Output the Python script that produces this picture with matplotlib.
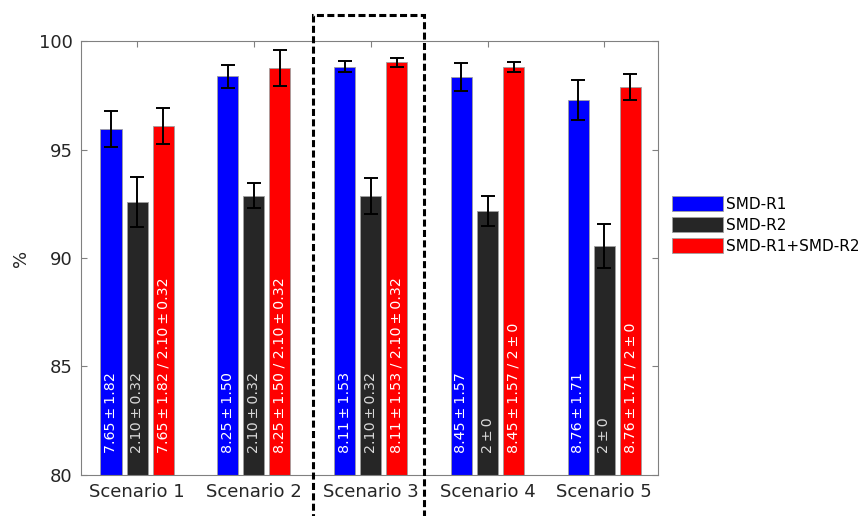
import matplotlib
matplotlib.use("Agg")
import matplotlib.pyplot as plt
import numpy as np
from matplotlib.patches import Rectangle

scenarios = ["Scenario 1", "Scenario 2", "Scenario 3", "Scenario 4", "Scenario 5"]
series = ["SMD-R1", "SMD-R2", "SMD-R1+SMD-R2"]

r1 = [95.94, 98.37, 98.82, 98.34, 97.28]
r1_err = [0.83, 0.54, 0.26, 0.63, 0.92]
r2 = [92.58, 92.87, 92.87, 92.17, 90.55]
r2_err = [1.16, 0.58, 0.82, 0.70, 1.01]
both = [96.08, 98.76, 99.02, 98.82, 97.88]
both_err = [0.82, 0.81, 0.22, 0.23, 0.61]

r1_text = ["7.65 ± 1.82", "8.25 ± 1.50", "8.11 ± 1.53", "8.45 ± 1.57", "8.76 ± 1.71"]
r2_text = ["2.10 ± 0.32", "2.10 ± 0.32", "2.10 ± 0.32", "2 ± 0", "2 ± 0"]
both_text = ["7.65 ± 1.82 / 2.10 ± 0.32", "8.25 ± 1.50 / 2.10 ± 0.32",
             "8.11 ± 1.53 / 2.10 ± 0.32", "8.45 ± 1.57 / 2 ± 0", "8.76 ± 1.71 / 2 ± 0"]

colors = ["#0000ff", "#262626", "#ff0000"]
text_colors = ["white", "#d9d9d9", "white"]

fig = plt.figure(figsize=(8.67, 5.16), dpi=100)
ax = fig.add_axes([0.0934, 0.0795, 0.6656, 0.841])

x = np.arange(1, len(scenarios) + 1)
w = 0.18
off = 0.223
vals = [r1, r2, both]
errs = [r1_err, r2_err, both_err]
texts = [r1_text, r2_text, both_text]

for i in range(3):
    xs = x + (i - 1) * off
    ax.bar(xs, np.array(vals[i]) - 80, w, bottom=80, color=colors[i],
           edgecolor="#a0a0a0", linewidth=0.6, label=series[i], zorder=2)
    ax.errorbar(xs, vals[i], yerr=errs[i], fmt="none", ecolor="black",
                elinewidth=1.4, capsize=5, capthick=1.4, zorder=3)
    for xi, t in zip(xs, texts[i]):
        # tighter spacing around the ± sign, as in the original
        t = t.replace(" ± ", "\u2009±\u2009")
        ax.text(xi, 81.0, t, rotation=90, ha="center", va="bottom",
                color=text_colors[i], fontsize=10.3, zorder=4)

ax.set_xlim(0.52, 5.46)
ax.set_ylim(80, 100)
ax.set_xticks(x)
ax.set_xticklabels(scenarios)
ax.set_yticks([80, 85, 90, 95, 100])
ax.tick_params(direction="in", top=True, right=True, length=4, width=0.8,
               color="#808080", labelsize=13, labelcolor="#262626", pad=6)
for s in ax.spines.values():
    s.set_color("#808080")
    s.set_linewidth(0.8)
ax.set_ylabel("%", fontsize=13, color="#262626", labelpad=6)

# dashed box highlighting scenario 3
ax.add_patch(Rectangle((2.51, 76.5), 0.95, 101.2 - 76.5, fill=False,
                       edgecolor="black", linewidth=2.2,
                       linestyle=(0, (2.3, 1.1)), clip_on=False, zorder=5))

ax.legend(loc="center left", bbox_to_anchor=(1.005, 0.576), frameon=False,
          fontsize=11, handlelength=3.33, handleheight=1.15, handletextpad=0.25,
          labelspacing=0.35, borderaxespad=0.3)

fig.savefig("out.png", dpi=100)
